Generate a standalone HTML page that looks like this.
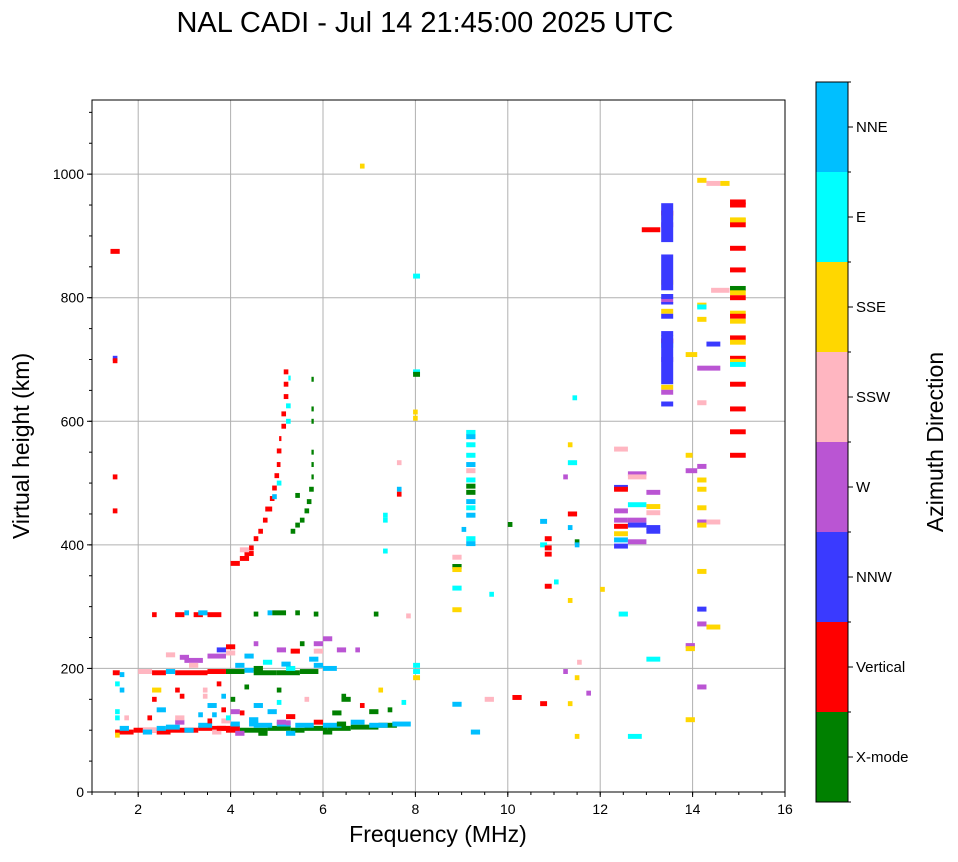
<!DOCTYPE html>
<html><head><meta charset="utf-8"><style>
body{margin:0;background:#fff;font-family:"Liberation Sans",sans-serif}
</style></head><body>
<svg id="chart" width="958" height="857" xmlns="http://www.w3.org/2000/svg" font-family="Liberation Sans, sans-serif">
<text x="425" y="32" font-size="29" text-anchor="middle">NAL CADI - Jul 14 21:45:00 2025 UTC</text>
<g id="grid"></g>
<g id="marks"></g>
<rect x="92" y="100" width="693" height="692" fill="none" stroke="#000" stroke-width="1"/>
<g id="axes"></g>
<text x="438" y="842" font-size="23" text-anchor="middle">Frequency (MHz)</text>
<text transform="translate(29,446) rotate(-90)" font-size="23" text-anchor="middle">Virtual height (km)</text>
<g id="cbar"></g>
<text transform="translate(943,442) rotate(-90)" font-size="23" text-anchor="middle">Azimuth Direction</text>
</svg>
<script>
const categories=["X-mode","Vertical","NNW","W","SSW","SSE","E","NNE"];
const colors=["#008000","#ff0000","#3a3aff","#ba55d3","#ffb6c1","#ffd700","#00ffff","#00bfff"];
const xTicks=[2,4,6,8,10,12,14,16];
const yTicks=[0,200,400,600,800,1000];
// marks: [freqStart, freqEnd, height, category]
const marks=[
[1.4,1.6,875,1],[1.45,1.55,702,2],[1.45,1.55,698,1],[1.45,1.55,510,1],[1.45,1.55,455,1],
[6.8,6.9,1013,5],
// E-layer ~100 km
[1.5,1.9,97,1],[1.9,2.4,100,1],[2.4,2.7,97,1],[2.6,3.3,100,1],[3.3,3.9,103,1],[3.9,4.2,100,1],[2.1,2.4,100,4],
[3.0,3.2,100,7],[3.6,3.8,97,4],[4.2,4.8,100,0],[4.8,5.3,103,0],[5.3,5.6,100,0],[5.6,6.1,103,0],[6.1,6.6,103,0],
[6.6,7.2,105,0],[7.2,7.6,108,0],[4.5,4.9,108,7],[5.4,5.8,108,7],[6.0,6.4,108,7],[7.0,7.4,108,7],[7.5,7.9,110,7],
[3.3,3.6,108,7],[2.6,2.9,105,7],[4.4,4.6,110,7],[5.0,5.3,110,7],[3.7,4.0,103,1],[4.0,4.2,103,1],[2.4,2.6,103,7],
[1.6,1.8,103,7],[1.5,1.6,92,5],[2.1,2.3,97,7],[4.1,4.3,95,3],[4.6,4.8,95,0],[5.2,5.4,95,7],[6.0,6.2,97,0],
[5.8,6.0,113,1],[6.6,6.9,113,7],[3.8,4.0,115,4],[4.4,4.6,117,7],[5.0,5.2,113,3],[6.3,6.5,110,0],[4.0,4.2,110,7],
[3.5,3.6,115,1],[2.8,3.0,113,3],[1.5,1.6,120,6],[1.5,1.6,130,6],[1.7,1.8,120,4],[2.2,2.3,120,1],[2.8,3.0,120,4],
[3.3,3.4,125,7],[3.6,3.7,125,7],[3.9,4.0,120,6],[4.0,4.2,130,3],[5.2,5.4,122,1],[5.2,5.3,112,3],[6.2,6.4,128,0],
[2.4,2.6,133,7],[3.8,3.9,133,1],[4.2,4.3,128,1],[4.8,5.0,130,7],[7.0,7.2,130,0],[1.6,1.7,165,7],[2.3,2.4,150,1],
[2.9,3.0,155,1],[3.4,3.5,155,4],[3.8,3.9,155,7],[4.0,4.1,150,0],[4.5,4.7,140,7],[5.0,5.1,145,6],[5.6,5.7,150,4],
[6.4,6.5,155,0],[6.8,6.9,140,1],[7.4,7.5,133,0],[7.7,7.8,145,6],[1.5,1.6,175,6],[2.3,2.5,165,5],[3.4,3.5,165,4],
[3.7,3.8,175,1],[4.3,4.4,170,0],[5.0,5.1,165,0],[6.4,6.6,150,0],[7.2,7.3,165,5],[2.8,2.9,165,1],[3.5,3.7,140,7],
// 200 km row
[1.45,1.6,193,1],[1.6,1.7,190,7],[2.0,2.3,195,4],[2.3,2.6,193,1],[2.8,3.5,193,1],[3.5,3.9,195,1],[3.9,4.3,195,0],
[4.3,4.5,197,7],[4.5,5.0,193,0],[5.0,5.5,193,0],[5.5,5.9,195,0],[5.8,6.0,205,7],[6.0,6.3,200,7],[2.6,2.8,195,7],
[4.1,4.3,205,7],[4.5,4.7,200,0],[5.2,5.4,200,6],[5.7,5.9,215,7],[3.0,3.4,213,3],[3.5,3.9,220,3],[3.7,3.9,230,2],
[3.1,3.3,205,4],[2.9,3.1,218,3],[2.6,2.8,222,4],[3.9,4.1,235,1],[3.9,4.1,225,4],[4.3,4.5,220,7],[4.5,4.6,240,3],
[5.0,5.2,230,3],[5.3,5.5,228,1],[5.5,5.6,240,0],[5.8,6.0,240,3],[6.0,6.2,248,3],[6.3,6.5,230,3],[6.7,6.8,230,3],
[5.8,6.0,228,4],[5.1,5.3,207,7],[4.7,4.9,210,6],
// 290 km row
[2.3,2.4,287,1],[2.8,3.0,287,1],[3.0,3.1,290,7],[3.2,3.4,287,1],[3.5,3.8,287,1],[3.3,3.5,290,7],[4.5,4.6,288,0],
[4.9,5.2,290,0],[5.4,5.5,290,0],[5.8,5.9,288,0],[4.8,4.9,290,7],[7.1,7.2,288,0],[7.8,7.9,285,4],
// F trace vertical
[4.0,4.2,370,1],[4.2,4.4,378,1],[4.3,4.5,386,1],[4.4,4.5,395,1],[4.5,4.6,410,1],[4.6,4.7,422,1],[4.7,4.8,440,1],
[4.75,4.9,458,1],[4.85,4.95,475,1],[4.9,5.0,492,1],[4.95,5.05,512,1],[5.0,5.08,530,1],[5.0,5.1,552,1],[5.05,5.1,572,1],
[5.1,5.2,592,1],[5.1,5.2,612,1],[5.15,5.25,640,1],[5.15,5.25,660,1],[5.15,5.25,680,1],[4.2,4.4,392,4],[5.2,5.3,600,6],
[5.2,5.3,625,6],[5.25,5.3,670,6],[5.0,5.1,500,6],[4.9,5.0,478,7],
// F trace X-mode
[5.3,5.4,422,0],[5.4,5.5,432,0],[5.5,5.6,440,0],[5.6,5.7,455,0],[5.65,5.75,470,0],[5.7,5.8,490,0],[5.75,5.8,510,0],
[5.75,5.8,530,0],[5.75,5.8,550,0],[5.75,5.8,600,0],[5.75,5.8,620,0],[5.75,5.8,668,0],[5.4,5.5,480,0],
// 7-8 MHz
[7.95,8.1,680,6],[7.95,8.1,676,0],[7.95,8.1,835,6],[7.95,8.05,615,5],[7.95,8.05,605,5],[7.6,7.7,490,7],[7.6,7.7,482,1],
[7.6,7.7,533,4],[7.3,7.4,448,6],[7.3,7.4,440,6],[7.3,7.4,390,6],[7.95,8.1,205,6],[7.95,8.1,195,6],[7.95,8.1,185,5],
[8.8,9.0,365,0],[8.8,9.0,360,5],[8.8,9.0,330,6],[8.8,9.0,295,5],[8.8,9.0,380,4],[9.0,9.1,425,7],[8.8,9.0,142,7],
[9.2,9.4,97,7],[9.5,9.7,150,4],[9.6,9.7,320,6],[10.1,10.3,153,1],[10.0,10.1,433,0],
// 9.2 column
[9.1,9.3,582,6],[9.1,9.3,575,7],[9.1,9.3,562,6],[9.1,9.3,545,6],[9.1,9.3,530,7],[9.1,9.3,520,4],[9.1,9.3,505,6],
[9.1,9.3,495,0],[9.1,9.3,485,0],[9.1,9.3,470,7],[9.1,9.3,460,6],[9.1,9.3,448,7],[9.1,9.3,410,6],[9.1,9.3,402,7],
// 10.5-12
[10.7,10.85,438,7],[10.7,10.85,400,6],[10.8,10.95,410,1],[10.8,10.95,395,1],[10.8,10.95,385,1],[10.8,10.95,333,1],
[10.7,10.85,143,1],[11.0,11.1,340,6],[11.2,11.3,510,3],[11.3,11.4,562,5],[11.3,11.5,533,6],[11.3,11.5,450,1],
[11.3,11.4,428,7],[11.4,11.5,638,6],[11.45,11.55,405,0],[11.45,11.55,400,7],[11.3,11.4,310,5],[11.2,11.3,195,3],
[11.3,11.4,143,5],[11.5,11.6,210,4],[11.45,11.55,185,5],[11.45,11.55,90,5],[11.7,11.8,160,3],[12.0,12.1,328,5],
// 12-13
[12.3,12.6,555,4],[12.3,12.6,493,2],[12.3,12.6,490,1],[12.3,12.6,455,3],[12.3,12.6,440,3],[12.3,12.6,430,1],
[12.3,12.6,418,5],[12.3,12.6,408,7],[12.3,12.6,398,2],[12.6,13.0,515,3],[12.6,13.0,510,4],[12.6,13.0,465,6],
[12.6,13.0,440,3],[12.6,13.0,432,2],[12.6,13.0,405,3],[13.0,13.3,485,3],[13.0,13.3,462,5],[13.0,13.3,452,4],
[13.0,13.3,422,2],[13.0,13.3,428,2],[12.4,12.6,288,6],[12.6,12.9,90,6],[13.0,13.3,215,6],[12.9,13.3,910,1],
// 13.5 column interior
[13.32,13.58,937,1],[13.32,13.58,930,5],[13.32,13.58,918,3],[13.32,13.58,825,5],[13.32,13.58,795,3],
[13.32,13.58,778,5],[13.32,13.58,770,2],[13.32,13.58,742,2],[13.32,13.58,730,1],[13.32,13.58,723,6],
[13.32,13.58,700,3],[13.32,13.58,655,5],[13.32,13.58,647,3],[13.32,13.58,628,2],
// 14 column
[13.85,14.1,708,5],[14.1,14.3,990,5],[14.3,14.6,985,4],[14.6,14.8,985,5],[14.4,14.8,812,4],[14.1,14.3,788,5],
[14.1,14.3,785,6],[14.1,14.3,765,5],[14.3,14.6,725,2],[14.1,14.6,686,3],[14.1,14.3,630,4],[13.85,14.0,545,5],
[13.85,14.1,520,3],[14.1,14.3,527,3],[14.1,14.3,505,5],[14.1,14.3,490,5],[14.1,14.3,460,5],[14.1,14.3,437,3],
[14.1,14.3,432,5],[14.3,14.6,437,4],[14.1,14.3,357,5],[14.1,14.3,296,2],[14.1,14.3,272,3],[14.3,14.6,267,5],
[13.85,14.05,237,3],[13.85,14.05,232,5],[14.1,14.3,170,3],[13.85,14.05,117,5],
// 15 column
[14.81,15.15,955,1],[14.81,15.15,950,1],[14.81,15.15,925,5],[14.81,15.15,918,1],[14.81,15.15,880,1],
[14.81,15.15,845,1],[14.81,15.15,815,0],[14.81,15.15,808,5],[14.81,15.15,800,1],[14.81,15.15,775,5],
[14.81,15.15,770,1],[14.81,15.15,762,5],[14.81,15.15,735,1],[14.81,15.15,728,5],[14.81,15.15,702,1],
[14.81,15.15,697,5],[14.81,15.15,692,6],[14.81,15.15,660,1],[14.81,15.15,620,1],[14.81,15.15,583,1],[14.81,15.15,545,1]
];
// spans: [freqStart, freqEnd, heightLow, heightHigh, category]
const spans=[
[13.32,13.58,890,953,2],[13.32,13.58,812,870,2],[13.32,13.58,660,739,2],[13.32,13.58,798,806,2],
[13.32,13.58,789,793,2],[14.81,15.15,923,930,5]
];
const NS="http://www.w3.org/2000/svg";
const X0=92,X1=785,Y0=792,Y1=100,fMin=1,fMax=16,hMin=0,hMax=1120;
const xs=f=>X0+(f-fMin)/(fMax-fMin)*(X1-X0);
const ys=h=>Y0-(h-hMin)/(hMax-hMin)*(Y0-Y1);
function mk(tag,attrs,parent){const e=document.createElementNS(NS,tag);for(const k in attrs)e.setAttribute(k,attrs[k]);parent.appendChild(e);return e;}
const grid=document.getElementById('grid'),axes=document.getElementById('axes'),mg=document.getElementById('marks'),cb=document.getElementById('cbar');
xTicks.forEach(t=>{const x=xs(t);
 if(t<fMax){const l=mk('line',{x1:x,x2:x,y1:Y1,y2:Y0,stroke:'#b0b0b0','stroke-width':1},grid);
 
 }
 mk('line',{x1:x,x2:x,y1:Y0,y2:Y0+5,stroke:'#000'},axes);
 const tx=mk('text',{x:x,y:Y0+22,'font-size':14,'text-anchor':'middle'},axes);tx.textContent=t;
 
 });
for(let f=1;f<=16;f+=0.5){mk('line',{x1:xs(f),x2:xs(f),y1:Y0,y2:Y0+3,stroke:'#000'},axes);}
yTicks.forEach(t=>{const y=ys(t);
 if(t>0){const l=mk('line',{x1:X0,x2:X1,y1:y,y2:y,stroke:'#b0b0b0','stroke-width':1},grid);
 
 }
 mk('line',{x1:X0-5,x2:X0,y1:y,y2:y,stroke:'#000'},axes);
 const tx=mk('text',{x:X0-8,y:y+5,'font-size':14,'text-anchor':'end'},axes);tx.textContent=t;
 
 });
for(let h=0;h<=1100;h+=50){mk('line',{x1:X0-3,x2:X0,y1:ys(h),y2:ys(h),stroke:'#000'},axes);}
marks.forEach(m=>{const r=mk('rect',{x:xs(m[0]),y:ys(m[2]+4),width:Math.max(2,xs(m[1])-xs(m[0])),height:ys(m[2]-4)-ys(m[2]+4),fill:colors[m[3]]},mg);
 
 });
spans.forEach(s=>{const r=mk('rect',{x:xs(s[0]),y:ys(s[3]),width:xs(s[1])-xs(s[0]),height:ys(s[2])-ys(s[3]),fill:colors[s[4]]},mg);
 
 });
// colorbar
const cx=816,cw=32,cTop=82,cBot=802,seg=(cBot-cTop)/categories.length;
categories.forEach((c,i)=>{const y=cBot-(i+1)*seg;
 const r=mk('rect',{x:cx,y:y,width:cw,height:seg,fill:colors[i]},cb);
 
 
 mk('line',{x1:cx+cw,x2:cx+cw+5,y1:y+seg/2,y2:y+seg/2,stroke:'#000'},cb);
 mk('line',{x1:cx+cw,x2:cx+cw+3,y1:y,y2:y,stroke:'#000'},cb);
 const t=mk('text',{x:cx+cw+8,y:y+seg/2+5,'font-size':15},cb);t.textContent=c;
 
 });
mk('line',{x1:cx+cw,x2:cx+cw+3,y1:cBot,y2:cBot,stroke:'#000'},cb);
mk('rect',{x:cx,y:cTop,width:cw,height:cBot-cTop,fill:'none',stroke:'#000'},cb);
</script>
</body></html>
